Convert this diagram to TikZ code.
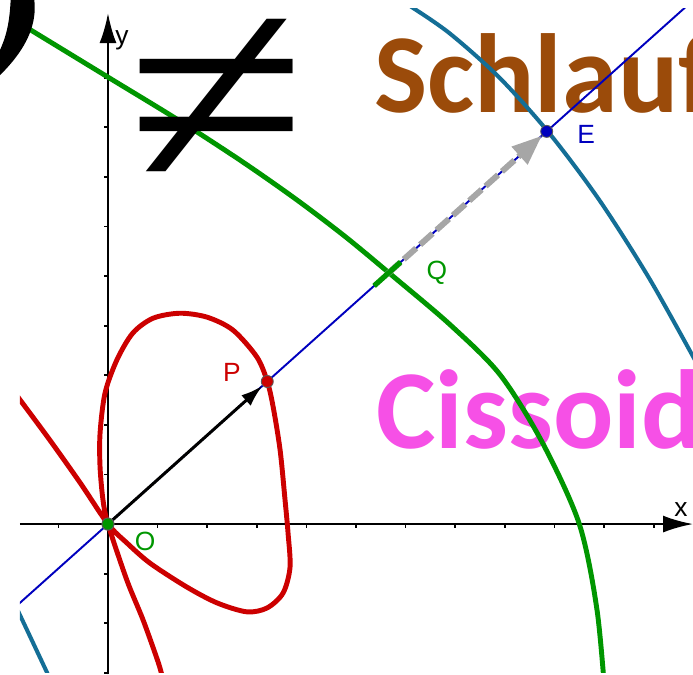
\documentclass[tikz,border=0pt]{standalone}
\usepackage{fontspec}
\setmainfont{Liberation Sans}
\newfontfamily\headfont{Carlito}
\newfontfamily\signfont{Liberation Serif}
\usetikzlibrary{arrows.meta}
\definecolor{loopred}{RGB}{204,0,0}
\definecolor{circgreen}{RGB}{0,150,0}
\definecolor{cisteal}{RGB}{20,110,150}
\definecolor{rayblue}{RGB}{0,0,190}
\definecolor{schlaufbrown}{RGB}{155,75,10}
\definecolor{cissmagenta}{RGB}{246,80,230}

\begin{document}
\begin{tikzpicture}[x=0.992cm, y=0.992cm,
  curve/.style={line width=2.8pt, line cap=round},
  axis/.style={line width=1.3pt, -{Latex[length=6mm,width=3.4mm]}},
  tick/.style={line width=1pt},
  dot/.style={circle, draw=black!65, line width=0.5pt, inner sep=0pt, minimum size=2.4mm},
  lbl/.style={font=\fontsize{15}{15}\selectfont, inner sep=0pt},
  big/.style={font=\headfont\bfseries\fontsize{64}{64}\selectfont, anchor=base west, inner sep=0pt},
  vecarrow/.style={line width=1.7pt, -{Latex[length=4.4mm,width=2.8mm]}},
  sumarrow/.style={draw=black!35, line width=3.4pt, dash pattern=on 9.5pt off 3pt,
    -{Triangle[length=6mm,width=4.5mm]}}
]
\useasboundingbox (-2.177,-3.024) rectangle (11.794,10.565);

% headings behind the graph
\node[big, text=schlaufbrown] (schlauf) at (5.36,8.29) {Schlauf};
\node[big, text=cissmagenta] (cissoide) at (5.40,1.53) {Cissoide};

% axes
\coordinate (xstart) at (-1.774,0);
\coordinate (xend) at (11.794,0);
\coordinate (ystart) at (0,-3.03);
\coordinate (yend) at (0,10.30);
\draw[axis] (xstart) -- (xend);
\draw[axis] (ystart) -- (yend);
\foreach \k in {-1,1,2,...,11}
  \draw[tick] (\k,0) -- (\k,-0.08);
\foreach \k in {-3,-2,-1,1,2,...,9}
  \draw[tick] (0,\k) -- (-0.08,\k);
\node[lbl] (ylabel) at (0.28,9.76) {y};
\node[lbl] (xlabel) at (11.55,0.30) {x};

\begin{scope}
\clip (-1.774,-2.984) rectangle (11.794,10.403);
% cissoid of the two curves
\draw[curve, cisteal, line width=2.3pt] plot[smooth] coordinates {(5.786,10.615) (6.089,10.444)
  (6.895,9.887) (7.903,8.988) (8.911,7.861) (9.919,6.512) (10.927,4.927) (11.935,3.121)};
\draw[curve, cisteal, line width=2.3pt] plot[smooth] coordinates {(-1.88,-1.61) (-1.774,-1.835)
  (-1.236,-2.978) (-1.13,-3.21)};
% green curve
\draw[curve, circgreen] plot[smooth] coordinates {(-2.8,10.72) (-1.8,10.108) (0,9.01)
  (1.4,8.156) (2.7,7.311) (3.8,6.541) (4.8,5.781) (5.8,4.951) (6.9,4.016) (7.9,3.016)
  (8.75,1.656) (9.5,0.006) (9.86,-1.74) (10.036,-3.653)};
% red loop
\draw[curve, loopred] plot[smooth] coordinates {(-2.0,2.81) (-1.77,2.50) (-1.17,1.69)
  (-0.56,0.83) (0,0) (0.38,-0.38) (0.85,-0.79) (1.59,-1.27) (2.20,-1.59) (2.80,-1.77)
  (3.21,-1.69) (3.53,-1.39) (3.67,-0.87) (3.63,-0.18) (3.57,0.48) (3.47,1.49) (3.33,2.36)
  (3.21,2.88) (3.00,3.37) (2.52,3.91) (2.00,4.17) (1.45,4.25) (0.91,4.15) (0.50,3.85)
  (0.18,3.31) (-0.06,2.64) (-0.16,1.83) (-0.16,1.15) (-0.10,0.48) (0,0) (0.38,-1.13)
  (0.71,-1.94) (1.01,-2.78) (1.1,-3.1)};

% ray through O
\coordinate (rayA) at (221.83:3.0);
\coordinate (rayB) at (41.83:16);
\draw[rayblue, line width=1.1pt] (rayA) -- (rayB);

\coordinate (Q) at (41.83:7.56);
\coordinate (Qa) at (41.83:7.2);
\coordinate (Qb) at (41.83:7.92);
\node[dot, fill=circgreen] (O) at (0,0) {};
\node[dot, fill=loopred] (P) at (41.83:4.31) {};
\node[dot, fill=rayblue] (E) at (41.83:11.87) {};

\draw[sumarrow] (Q) -- (E);
\draw[circgreen, line width=3pt] (Qa) -- (Qb);
\draw[vecarrow] (O) -- (P);
\node[dot, fill=circgreen] at (O) {};
\end{scope}

\node[lbl, text=loopred] (Plabel) at (2.50,3.06) {P};
\node[lbl, text=circgreen] (Olabel) at (0.75,-0.36) {O};
\node[lbl, text=circgreen] (Qlabel) at (6.63,5.06) {Q};
\node[lbl, text=rayblue] (Elabel) at (9.64,7.86) {E};

% big sign and the cut glyph at the corner
\node[font=\signfont\fontsize{187}{187}\selectfont, inner sep=0pt] (neq) at (2.20,8.44)
  {\scalebox{1}[0.88]{≠}};
\fill (-2.177,10.6) -- (-1.49,10.6) .. controls (-1.42,10.1) and (-1.62,9.6) .. (-2.177,9.05)
  -- (-2.177,9.556) .. controls (-2.02,9.9) and (-1.98,10.2) .. (-1.96,10.6) -- cycle;
\end{tikzpicture}
\end{document}
